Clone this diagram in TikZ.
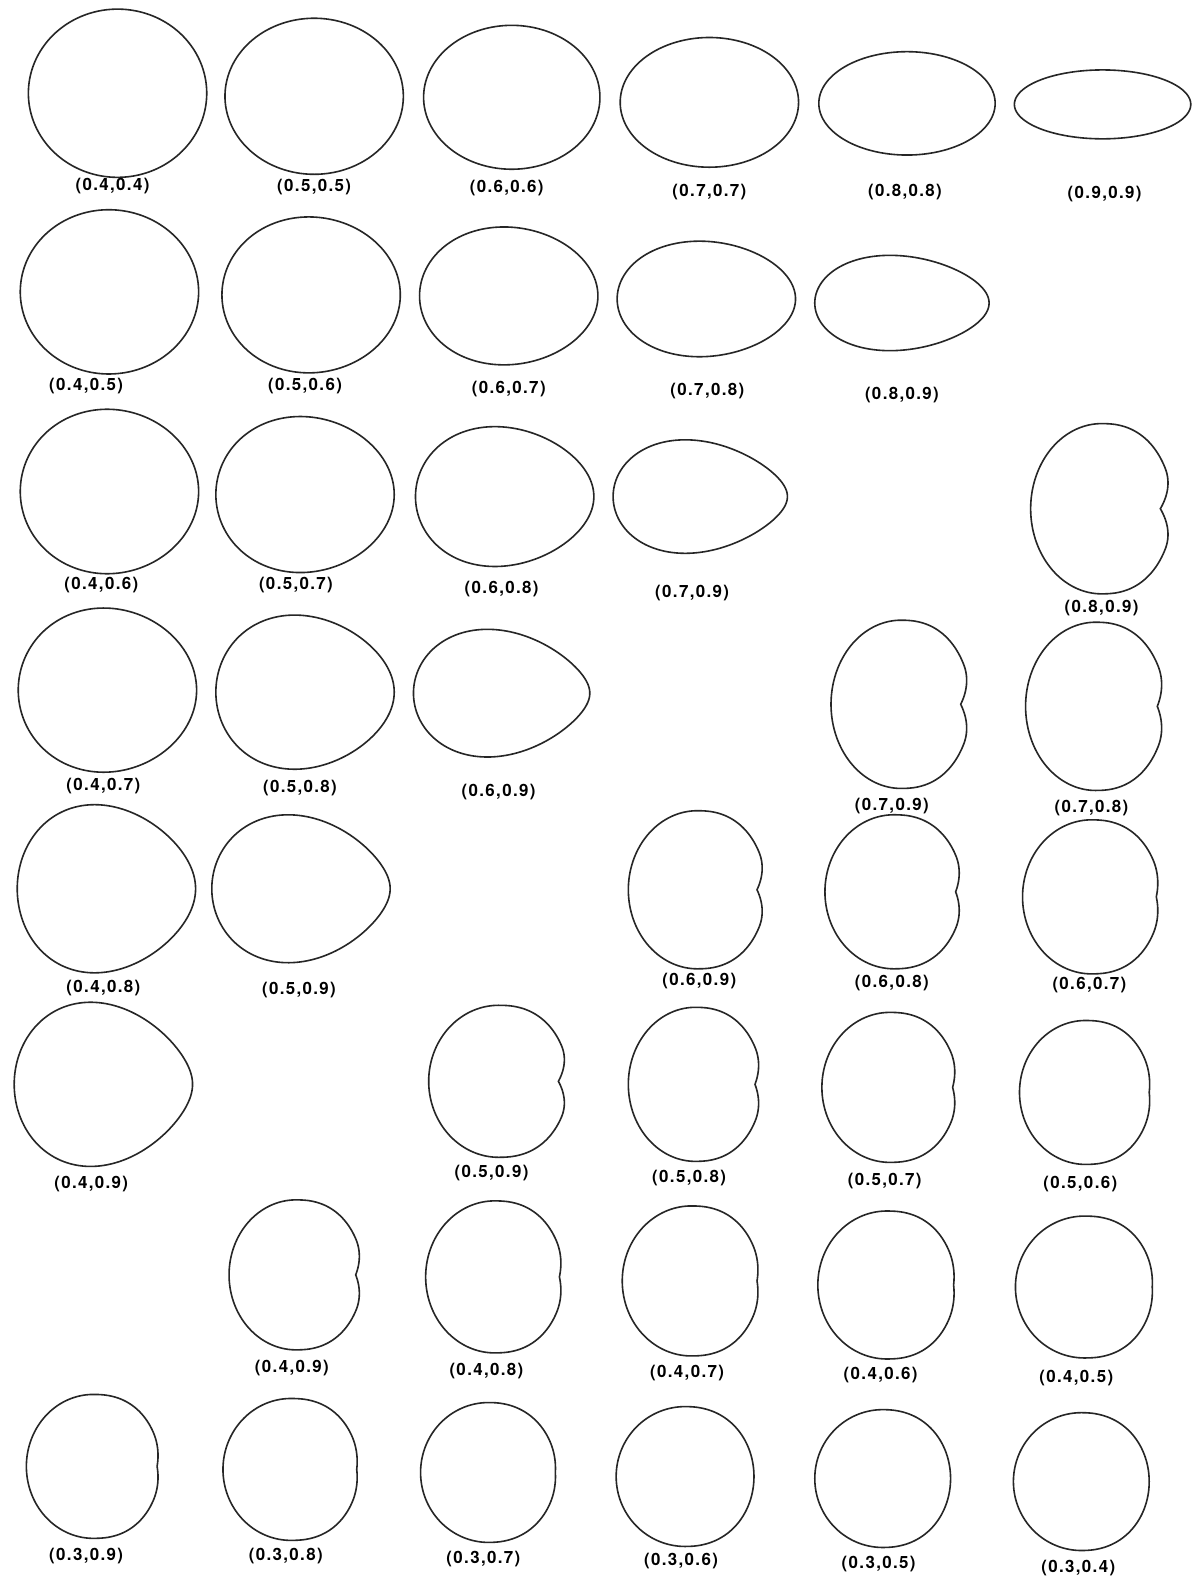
\documentclass[tikz,border=0pt]{standalone}
\usepackage{fontspec}
\newfontfamily\labfont{TeX Gyre Heros}[LetterSpace=8]

% egg / ellipse: name, centre, a, b, taper k, shift m, label pos, label
\newcommand{\eggorbit}[8]{%
  \draw[orb, shift={(#2)}] plot[domain=-180:180, samples=241]
    ({#3*cos(\x) + #6*sin(\x)*sin(\x)}, {#4*sin(\x)*(1-#5*cos(\x))}) -- cycle;
  \node[lab] (#1) at (#7) {#8};}
% dented curve: name, centre, a, b, dent D, flat q, label pos, label
\newcommand{\dentorbit}[8]{%
  \draw[orb, shift={(#2)}] plot[domain=-180:180, samples=241]
    ({#3*((max(0.0001,cos(\x)))^(#6) + min(0,cos(\x))) - #5*(max(0,1-abs(\x)/28))*(max(0,1-abs(\x)/28))},
     {#4*sin(\x)}) -- cycle;
  \node[lab] (#1) at (#7) {#8};}

\begin{document}
\begin{tikzpicture}[x=0.02cm, y=-0.02cm,
  orb/.style={line width=0.9pt, black!85},
  lab/.style={font={\labfont\bfseries\fontsize{9.5}{11}\selectfont}, inner sep=0pt}]
  \useasboundingbox[fill=white] (0,0) rectangle (1182,1568);
  % row 1
  \eggorbit{a1}{116,92}{88}{83}{0}{0}{111,184}{(0.4,0.4)}
  \eggorbit{a2}{310,95}{88}{77}{0}{0}{310,185}{(0.5,0.5)}
  \eggorbit{a3}{505,96}{87}{71}{0}{0}{500,186}{(0.6,0.6)}
  \eggorbit{a4}{700,101}{88}{64}{0}{0}{700,189}{(0.7,0.7)}
  \eggorbit{a5}{895,102}{87}{51}{0}{0}{893,189}{(0.8,0.8)}
  \eggorbit{a6}{1088,103}{87}{34}{0}{0}{1090,191}{(0.9,0.9)}
  % row 2
  \eggorbit{b1}{108,288}{88}{81}{0.03}{2}{85,381}{(0.4,0.5)}
  \eggorbit{b2}{307,291}{88}{76.8}{0.06}{3}{301,381}{(0.5,0.6)}
  \eggorbit{b3}{502,292}{88}{67.7}{0.1}{4}{502,384}{(0.6,0.7)}
  \eggorbit{b4}{697,295}{88}{56.4}{0.15}{6}{698,386}{(0.7,0.8)}
  \eggorbit{b5}{890,299}{86}{45.7}{0.25}{8}{890,390}{(0.8,0.9)}
  % row 3
  \eggorbit{c1}{108,485}{88}{81}{0.06}{3}{100,577}{(0.4,0.6)}
  \eggorbit{c2}{301,488}{88}{76.6}{0.1}{4}{292,577}{(0.5,0.7)}
  \eggorbit{c3}{498,490}{88}{67.7}{0.2}{7}{495,581}{(0.6,0.8)}
  \eggorbit{c4}{691,490}{86}{52.4}{0.4}{14}{683,585}{(0.7,0.9)}
  \dentorbit{c5}{1087,502}{70}{84}{12}{0.85}{1087,600}{(0.8,0.9)}
  % row 4
  \eggorbit{d1}{106,681}{88}{80.6}{0.1}{5}{102,776}{(0.4,0.7)}
  \eggorbit{d2}{301,683}{88}{73.9}{0.25}{10}{296,778}{(0.5,0.8)}
  \eggorbit{d3}{495,684}{87}{58.1}{0.45}{18}{492,782}{(0.6,0.9)}
  \dentorbit{d4}{889,695}{69}{83}{10}{0.85}{880,795}{(0.7,0.9)}
  \dentorbit{d5}{1081,697}{69}{83}{8}{0.85}{1077,797}{(0.7,0.8)}
  % row 5
  \eggorbit{e1}{105,877}{88}{79.7}{0.3}{12}{102,975}{(0.4,0.8)}
  \eggorbit{e2}{297,877}{88}{67.3}{0.45}{20}{295,977}{(0.5,0.9)}
  \dentorbit{e3}{688,878}{68}{78}{9}{0.85}{690,968}{(0.6,0.9)}
  \dentorbit{e4}{882,880}{68}{76}{7}{0.85}{880,970}{(0.6,0.8)}
  \dentorbit{e5}{1077,885}{68}{76}{4}{0.85}{1075,972}{(0.6,0.7)}
  % row 6
  \eggorbit{f1}{102,1070}{88}{74.7}{0.45}{20}{90,1168}{(0.4,0.9)}
  \dentorbit{f2}{492,1067}{69}{75}{10}{0.85}{485,1158}{(0.5,0.9)}
  \dentorbit{f3}{686,1070}{66}{76}{7}{0.85}{680,1162}{(0.5,0.8)}
  \dentorbit{f4}{878,1073}{67}{74}{5}{0.85}{873,1165}{(0.5,0.7)}
  \dentorbit{f5}{1071,1078}{65}{71}{2}{0.85}{1066,1168}{(0.5,0.6)}
  % row 7
  \dentorbit{g1}{292,1258}{66}{74}{7}{0.85}{288,1350}{(0.4,0.9)}
  \dentorbit{g2}{488,1260}{68}{75}{4}{0.85}{480,1353}{(0.4,0.8)}
  \dentorbit{g3}{682,1264}{68}{74}{3}{0.85}{678,1355}{(0.4,0.7)}
  \dentorbit{g4}{875,1268}{68}{73}{2}{0.85}{869,1357}{(0.4,0.6)}
  \dentorbit{g5}{1070,1270}{68}{70}{1}{0.85}{1062,1360}{(0.4,0.5)}
  % row 8
  \dentorbit{h1}{92,1447}{66}{71}{3}{0.85}{85,1535}{(0.3,0.9)}
  \dentorbit{h2}{287,1450}{67}{70}{2}{0.85}{282,1535}{(0.3,0.8)}
  \dentorbit{h3}{482,1453}{67}{69}{1}{0.9}{477,1538}{(0.3,0.7)}
  \dentorbit{h4}{676,1457}{68}{69}{0}{0.9}{672,1540}{(0.3,0.6)}
  \dentorbit{h5}{871,1459}{67}{68}{0}{0.9}{867,1543}{(0.3,0.5)}
  \dentorbit{h6}{1067,1462}{67}{68}{0}{0.9}{1064,1547}{(0.3,0.4)}
\end{tikzpicture}
\end{document}
